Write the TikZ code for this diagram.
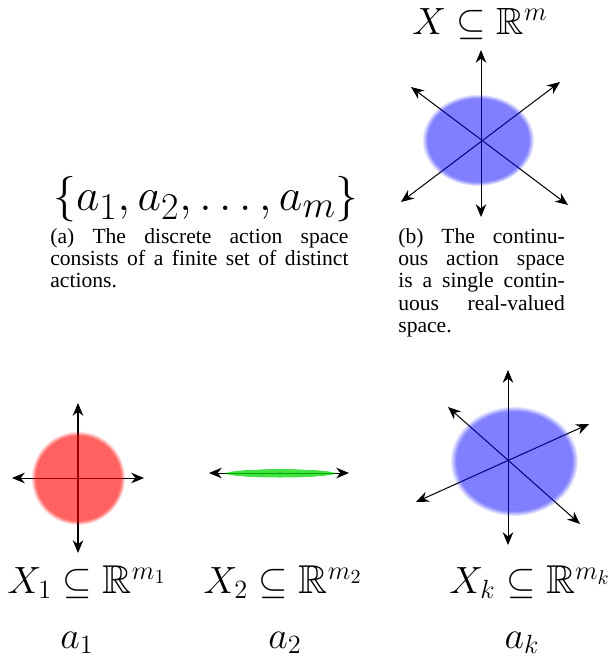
\documentclass[tikz,border=0pt]{standalone}
\usepackage[no-math]{fontspec}
\setmainfont{Liberation Serif}
\usepackage{amssymb}
\usetikzlibrary{arrows.meta,fadings}

\tikzset{
  axis/.style={{Stealth[length=7pt,width=5.8pt]}-{Stealth[length=7pt,width=5.8pt]}, line width=0.55pt},
  blob/.style={fill=#1, path fading=circle with fuzzy edge 10 percent},
  spacelabel/.style={font=\huge, anchor=base, inner sep=0pt},
  subcap/.style={font=\fontsize{11.8}{12.2}\selectfont, align=justify, anchor=north west, inner sep=0pt},
}

\begin{document}
\begin{tikzpicture}[x=0.5467pt,y=-0.5467pt]
		\useasboundingbox (0,0) rectangle (615,660);
		%(a) discrete action space
		\node (set) at (206,199) {\Huge$\{a_1, a_2, \ldots, a_m\}$};
		\node[subcap, text width=163pt] (capa) at (50,228) {(a) The discrete action space\linebreak consists of a finite set of distinct\linebreak actions.};
		%(b) continuous action space
		\coordinate (b) at (481,141);
		\coordinate (bU) at (481,50);
		\coordinate (bD) at (481,217);
		\coordinate (bUL) at (411,87);
		\coordinate (bDR) at (568,205);
		\coordinate (bUR) at (560,82);
		\coordinate (bDL) at (401,202);
		\draw[axis] (bU) -- (bD);
		\draw[axis] (bUL) -- (bDR);
		\draw[axis] (bUR) -- (bDL);
		\fill[blob=blue, opacity=0.5] (478,140) ellipse (56 and 46);
		\node[spacelabel] (X) at (480,34) {$X \subseteq \mathbb{R}^m$};
		\node[subcap, text width=91pt] (capb) at (398,228) {(b) The continu-\linebreak ous action space\linebreak is a single contin-\linebreak uous real-valued\linebreak space.};
		%parameterized action space
		\coordinate (p1) at (78,478);
		\coordinate (p1U) at (78,403);
		\coordinate (p1D) at (78,553);
		\coordinate (p1L) at (12,478);
		\coordinate (p1R) at (144,478);
		\draw[axis] (p1U) -- (p1D);
		\draw[axis] (p1L) -- (p1R);
		\fill[blob=red, opacity=0.62] (p1) circle (47);
		\coordinate (p2L) at (209,473);
		\coordinate (p2R) at (349,473);
		\draw[axis] (p2L) -- (p2R);
		\fill[blob=green!85!black, opacity=0.75] (280,473) ellipse (57 and 4.5);
		\coordinate (pk) at (508,461);
		\coordinate (pkU) at (508,370);
		\coordinate (pkD) at (508,545);
		\coordinate (pkUL) at (448,407);
		\coordinate (pkDR) at (580,524);
		\coordinate (pkUR) at (589,424);
		\coordinate (pkDL) at (416,502);
		\draw[axis] (pkU) -- (pkD);
		\draw[axis] (pkUL) -- (pkDR);
		\draw[axis] (pkUR) -- (pkDL);
		\fill[blob=blue, opacity=0.5] (514,461) ellipse (64 and 55);
		\node[spacelabel, font=\fontsize{22}{26}\selectfont] (X1) at (87,593) {$X_1 \subseteq \mathbb{R}^{m_1}$};
		\node[spacelabel, font=\fontsize{22}{26}\selectfont] (X2) at (283,593) {$X_2 \subseteq \mathbb{R}^{m_2}$};
		\node[spacelabel, font=\fontsize{22}{26}\selectfont] (Xk) at (530,593) {$X_k \subseteq \mathbb{R}^{m_k}$};
		\node[spacelabel] (a1) at (77,648) {$a_1$};
		\node[spacelabel] (a2) at (285,648) {$a_2$};
		\node[spacelabel] (ak) at (522,648) {$a_k$};
\end{tikzpicture}
\end{document}
